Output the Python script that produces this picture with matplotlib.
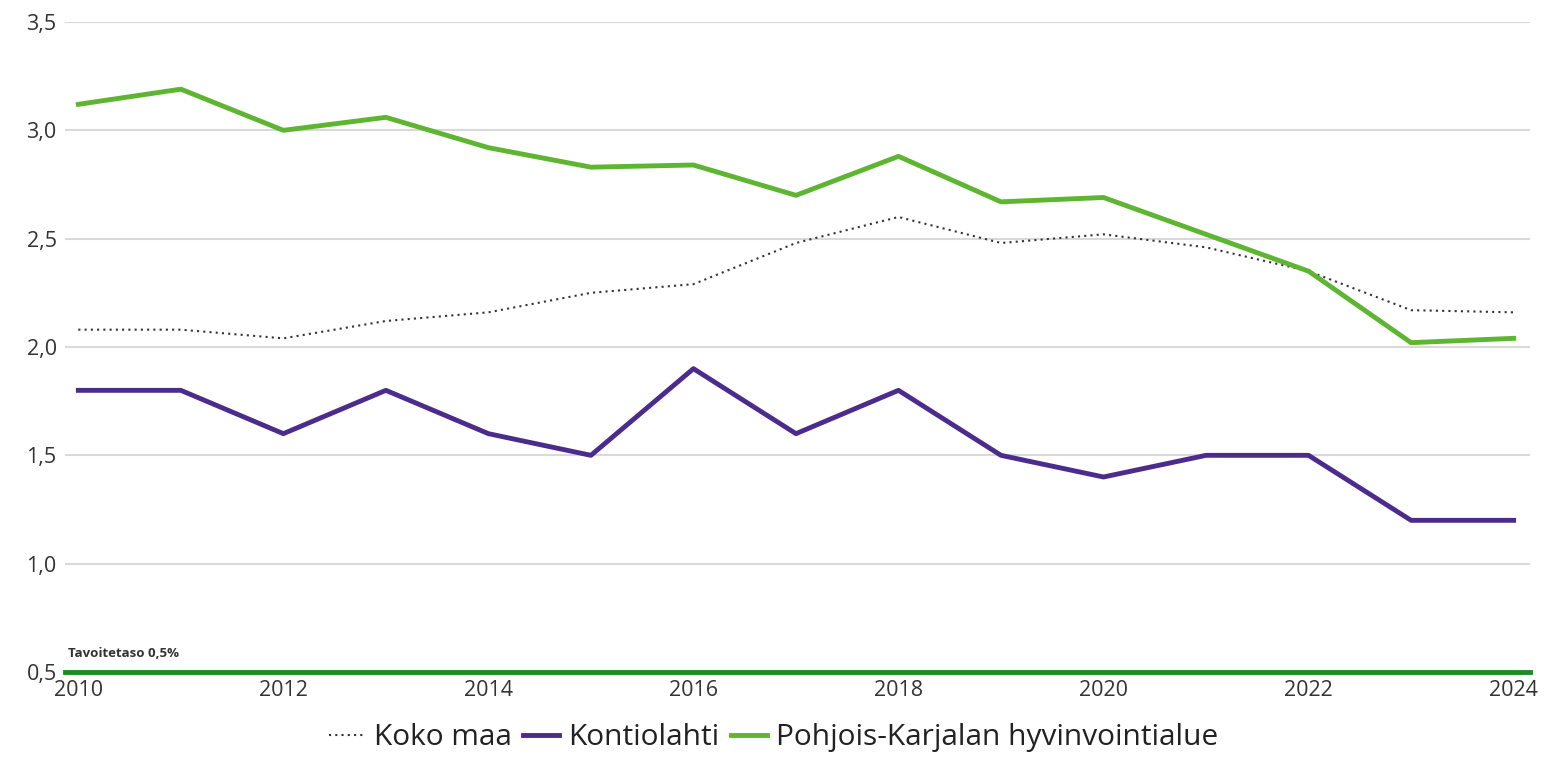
import matplotlib.pyplot as plt
from matplotlib.ticker import FuncFormatter

years = list(range(2010, 2025))
koko_maa = [2.08, 2.08, 2.04, 2.12, 2.16, 2.25, 2.29, 2.48, 2.60, 2.48, 2.52, 2.46, 2.35, 2.17, 2.16]
kontiolahti = [1.8, 1.8, 1.6, 1.8, 1.6, 1.5, 1.9, 1.6, 1.8, 1.5, 1.4, 1.5, 1.5, 1.2, 1.2]
pohjois_karjala = [3.12, 3.19, 3.00, 3.06, 2.92, 2.83, 2.84, 2.70, 2.88, 2.67, 2.69, 2.52, 2.35, 2.02, 2.04]
target = 0.5
yticks = [0.5, 1.0, 1.5, 2.0, 2.5, 3.0, 3.5]
xticks = list(range(2010, 2025, 2))

plt.rcParams["font.family"] = ["Open Sans", "DejaVu Sans"]

fig = plt.figure(figsize=(15.47, 7.70), dpi=100)
ax = fig.add_axes([65 / 1547, 1 - 672 / 770, (1530 - 65) / 1547, 650 / 770])

# grid lines (skip the bottom one, the target line sits there)
for y in yticks[1:]:
    ax.axhline(y, color="#d9d9d9", linewidth=1.5, zorder=0)

ax.plot(years, koko_maa, color="#333333", linestyle=(0, (1, 2)), linewidth=1.5, label="Koko maa", zorder=3)
ax.plot(years, kontiolahti, color="#4b2c8c", linewidth=3.5, label="Kontiolahti", zorder=3)
ax.plot(years, pohjois_karjala, color="#5db532", linewidth=3.5,
        label="Pohjois-Karjalan hyvinvointialue", zorder=3)

ax.axhline(target, color="#1f8a24", linewidth=3.5, zorder=4, clip_on=False)
ax.text(2009.9, target + 0.055, "Tavoitetaso 0,5%", fontsize=9.5, fontweight="bold",
        color="#333333", ha="left", va="bottom")

ax.set_xlim(2009.87, 2024.16)
ax.set_ylim(0.5, 3.5)
ax.set_yticks(yticks)
ax.set_xticks(xticks)
ax.yaxis.set_major_formatter(FuncFormatter(lambda v, p: f"{v:.1f}".replace(".", ",")))
ax.tick_params(axis="both", length=0, labelsize=15.5, colors="#333333")
ax.tick_params(axis="x", pad=6)
ax.tick_params(axis="y", pad=6)
for s in ax.spines.values():
    s.set_visible(False)

fig.legend(loc="lower center", bbox_to_anchor=(0.5, -0.012), ncol=3, frameon=False,
           fontsize=21.5, handlelength=1.2, handletextpad=0.3, columnspacing=0.4,
           labelcolor="#222222")

fig.savefig("out.png", dpi=100)
